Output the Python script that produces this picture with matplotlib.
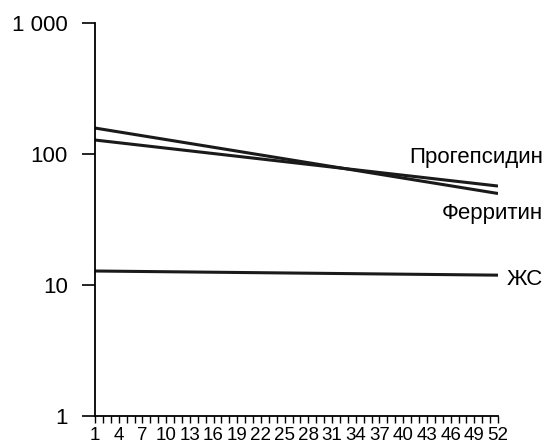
import matplotlib
matplotlib.use("Agg")
import matplotlib.pyplot as plt
from matplotlib.ticker import FixedLocator, FuncFormatter, NullLocator

plt.rcParams['font.family'] = ['Liberation Sans', 'DejaVu Sans']

weeks = [1, 52]
progepsidin = [128, 57]
ferritin = [158, 50]
zhs = [12.8, 11.9]

labels = ["Прогепсидин", "Ферритин", "ЖС"]
label_y = [85.4, 32.2, 10.0]

x_major = list(range(1, 53, 3))
x_minor = list(range(1, 53))
y_ticks = [1, 10, 100, 1000]

fig = plt.figure(figsize=(5.48, 4.44), dpi=100)
ax = fig.add_axes([0.1734, 0.063, 0.7354, 0.885])

for vals in (progepsidin, ferritin, zhs):
    ax.plot(weeks, vals, color='#1a1a1a', lw=2.2, solid_capstyle='butt')

ax.set_yscale('log')
ax.set_xlim(1, 52)
ax.set_ylim(1, 1000)

ax.yaxis.set_major_locator(FixedLocator(y_ticks))
ax.yaxis.set_minor_locator(NullLocator())
ax.yaxis.set_major_formatter(FuncFormatter(lambda v, p: f"{int(round(v)):,}".replace(",", " ")))
ax.xaxis.set_major_locator(FixedLocator(x_major))
ax.xaxis.set_minor_locator(FixedLocator(x_minor))

ax.tick_params(axis='y', which='major', direction='out', length=9.5, width=1.2, labelsize=16, pad=10)
ax.tick_params(axis='x', which='both', direction='out', length=5, width=1.0, labelsize=13.5, pad=3)

for s in ('top', 'right'):
    ax.spines[s].set_visible(False)
for s in ('left', 'bottom'):
    ax.spines[s].set_linewidth(1.3)

ax.annotate(labels[0], xy=(52, label_y[0]), xytext=(32.4, 0), textcoords='offset points',
            ha='right', va='baseline', fontsize=16, annotation_clip=False)
ax.annotate(labels[1], xy=(52, label_y[1]), xytext=(32.4, 0), textcoords='offset points',
            ha='right', va='baseline', fontsize=16, annotation_clip=False)
ax.annotate(labels[2], xy=(52, label_y[2]), xytext=(6.5, 0), textcoords='offset points',
            ha='left', va='baseline', fontsize=16, annotation_clip=False)

fig.savefig("out.png", dpi=100)
